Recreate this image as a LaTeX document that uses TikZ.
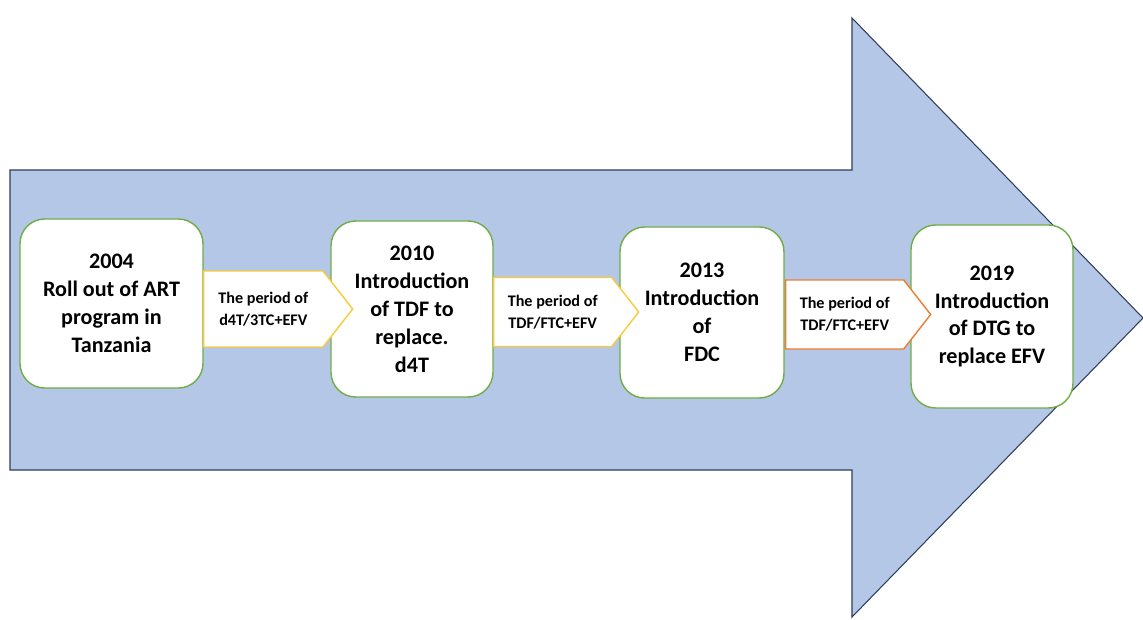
\documentclass[tikz,border=0pt]{standalone}
\usepackage{fontspec}
\setmainfont{Carlito}
\usetikzlibrary{shapes.symbols,positioning}

\definecolor{bandblue}{HTML}{B4C7E7}
\definecolor{bandline}{HTML}{2F3D5A}
\definecolor{boxgreen}{HTML}{70AD47}
\definecolor{periodyellow}{HTML}{F7CB3A}
\definecolor{periodorange}{HTML}{ED7D31}

\tikzset{
  yearbox/.style={draw=boxgreen, fill=white, rounded corners=14pt, line width=0.8pt,
    align=center, inner sep=0pt, font=\bfseries\fontsize{12.6}{15.9}\selectfont},
  period/.style={signal, signal to=east, signal pointer angle=104, draw=#1, fill=white,
    line width=0.8pt, align=center, inner sep=0pt, anchor=west,
    font=\bfseries\fontsize{9.2}{12.6}\selectfont},
}

\begin{document}
\begin{tikzpicture}[x=0.02cm, y=-0.02cm]
  \useasboundingbox (0,0) rectangle (1143,619);

  % the big timeline arrow
  \draw[fill=bandblue, draw=bandline, line width=0.6pt]
    (10,170) -- (852,170) -- (852,18) -- (1143,318) -- (852,617) -- (852,470) -- (10,470) -- cycle;

  % milestones
  \node[yearbox, minimum width=3.66cm, minimum height=3.38cm] (y2004) at (111.5,303.5)
    {2004\\Roll out of ART\\program in\\Tanzania};
  \node[yearbox, minimum width=3.24cm, minimum height=3.52cm] (y2010) at (412,309)
    {2010\\Introduction\\of TDF to\\replace.\\d4T};
  \node[yearbox, minimum width=3.28cm, minimum height=3.42cm] (y2013) at (702,312.5)
    {2013\\Introduction\\of\\FDC};
  \node[yearbox, minimum width=3.24cm, minimum height=3.66cm] (y2019) at (992,316.5)
    {2019\\Introduction\\of DTG to\\replace EFV};

  % periods between the milestones
  \node[period=periodyellow, minimum width=2.98cm, minimum height=1.52cm] (p1) at (203,309)
    {The period of\\d4T/3TC+EFV};
  \node[period=periodyellow, minimum width=2.9cm, minimum height=1.38cm] (p2) at (493,312)
    {The period of\\TDF/FTC+EFV};
  \node[period=periodorange, minimum width=2.9cm, minimum height=1.38cm] (p3) at (785,314.5)
    {The period of\\TDF/FTC+EFV};
\end{tikzpicture}
\end{document}
